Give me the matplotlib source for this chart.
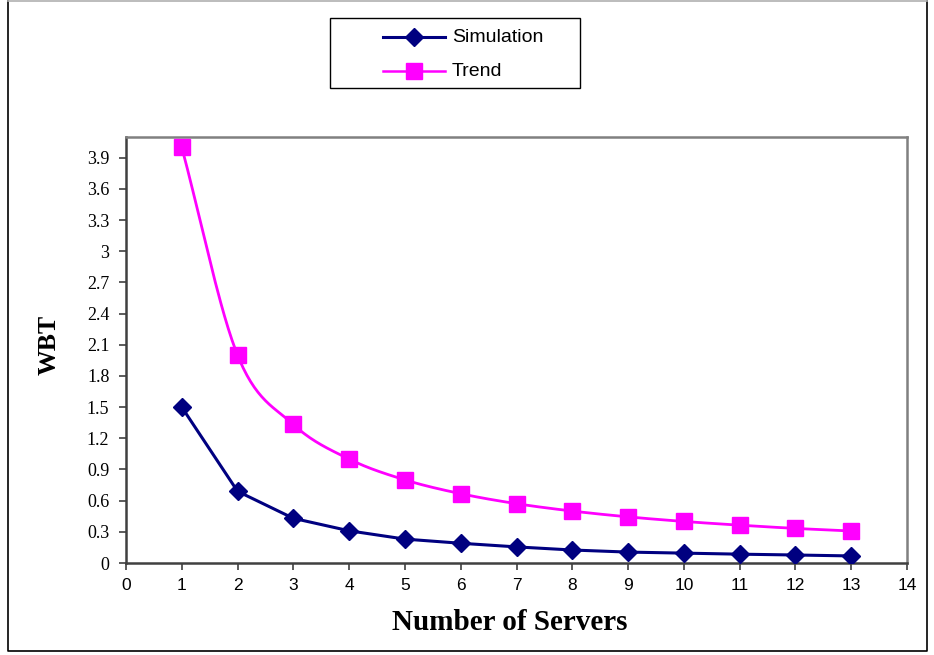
import numpy as np
import matplotlib
matplotlib.use("Agg")
import matplotlib.pyplot as plt
from matplotlib.patches import Rectangle
from matplotlib.lines import Line2D

servers = [1, 2, 3, 4, 5, 6, 7, 8, 9, 10, 11, 12, 13]
simulation = [1.5, 0.69, 0.43, 0.31, 0.23, 0.19, 0.155, 0.125, 0.105, 0.095, 0.085, 0.077, 0.068]
trend = [4.0, 2.0, 1.333, 1.0, 0.8, 0.667, 0.571, 0.5, 0.444, 0.4, 0.364, 0.333, 0.308]
y_ticks = [0, 0.3, 0.6, 0.9, 1.2, 1.5, 1.8, 2.1, 2.4, 2.7, 3, 3.3, 3.6, 3.9]
x_ticks = list(range(0, 15))
series_names = ["Simulation", "Trend"]

NAVY = "#000080"
MAGENTA = "#FF00FF"
W, H = 934, 655


def smooth_path(x, y, steps=30):
    """Catmull-Rom style smoothed path through the given points."""
    x = np.asarray(x, float)
    y = np.asarray(y, float)
    px = np.concatenate([[2 * x[0] - x[1]], x, [2 * x[-1] - x[-2]]])
    py = np.concatenate([[2 * y[0] - y[1]], y, [2 * y[-1] - y[-2]]])
    xs, ys = [], []
    t = np.linspace(0, 1, steps, endpoint=False)
    for i in range(1, len(px) - 2):
        for arr, out in ((px, xs), (py, ys)):
            p0, p1, p2, p3 = arr[i - 1], arr[i], arr[i + 1], arr[i + 2]
            out.extend(0.5 * ((2 * p1) + (-p0 + p2) * t
                              + (2 * p0 - 5 * p1 + 4 * p2 - p3) * t ** 2
                              + (-p0 + 3 * p1 - 3 * p2 + p3) * t ** 3))
    xs.append(x[-1])
    ys.append(y[-1])
    return np.array(xs), np.array(ys)


def fx(px):
    return px / W


def fy(py):
    return 1 - py / H


fig = plt.figure(figsize=(W / 100, H / 100), dpi=100)
fig.patch.set_facecolor("white")

# outer chart border: dark sides and bottom, light top edge
fig.add_artist(Line2D([fx(8), fx(8), fx(927), fx(927)], [fy(1), fy(651), fy(651), fy(1)],
                      transform=fig.transFigure, color="black", linewidth=1.2))
fig.add_artist(Line2D([fx(8), fx(927)], [fy(1), fy(1)],
                      transform=fig.transFigure, color="#b0b0b0", linewidth=1.2))

ax = fig.add_axes([fx(126), fy(563), (907 - 126) / W, (563 - 137) / H])
ax.set_xlim(0, 14)
ax.set_ylim(0, 4.1)

# simulation: straight segments with diamond markers
ax.plot(servers, simulation, color=NAVY, linewidth=2.2, marker="D",
        markersize=9.5, markerfacecolor=NAVY, markeredgecolor=NAVY, zorder=3)

# trend: smoothed line with square markers
sx, sy = smooth_path(servers, trend)
ax.plot(sx, sy, color=MAGENTA, linewidth=2.0, zorder=2)
ax.plot(servers, trend, linestyle="none", marker="s", markersize=11,
        markerfacecolor=MAGENTA, markeredgecolor=MAGENTA, zorder=3)

ax.set_xticks(x_ticks)
ax.set_yticks(y_ticks)
ax.set_yticklabels([f"{v:g}" for v in y_ticks], family="Liberation Serif", fontsize=13)
ax.set_xticklabels([str(v) for v in x_ticks], family="Liberation Sans", fontsize=12.5)
ax.tick_params(axis="both", direction="out", length=5, width=1.2, color="#404040")
ax.tick_params(axis="y", pad=7)
ax.tick_params(axis="x", pad=6)

for side in ("left", "bottom"):
    ax.spines[side].set_color("#404040")
    ax.spines[side].set_linewidth(1.8)
for side in ("top", "right"):
    ax.spines[side].set_color("#808080")
    ax.spines[side].set_linewidth(1.8)

ax.set_xlabel("Number of Servers", family="Liberation Serif", fontweight="bold",
              fontsize=21)
ax.xaxis.label.set_va("center")
ax.xaxis.set_label_coords((510 - 126) / 781, (563 - 622) / 426)
ax.set_ylabel("WBT", family="Liberation Serif", fontweight="bold", fontsize=18.5)
ax.yaxis.label.set_va("center")
ax.yaxis.set_label_coords((49 - 126) / 781, (563 - 345) / 426)

# legend box drawn in figure pixels
fig.patches.append(Rectangle((fx(330), fy(88)), 250 / W, 70 / H,
                             transform=fig.transFigure, fill=True,
                             facecolor="white", edgecolor="black", linewidth=1.0))
legend_rows = [(37, NAVY, "D", 9.5, 2.2), (71, MAGENTA, "s", 11, 1.8)]
for name, (row_y, col, mk, ms, lw) in zip(series_names, legend_rows):
    fig.add_artist(Line2D([fx(383), fx(445)], [fy(row_y), fy(row_y)],
                          transform=fig.transFigure, color=col, linewidth=lw))
    fig.add_artist(Line2D([fx(414)], [fy(row_y)], transform=fig.transFigure,
                          marker=mk, markersize=ms, color=col, linestyle="none"))
    fig.text(fx(452), fy(row_y), name, family="Liberation Sans", fontsize=14,
             ha="left", va="center")

fig.savefig("out.png", dpi=100, facecolor="white")
